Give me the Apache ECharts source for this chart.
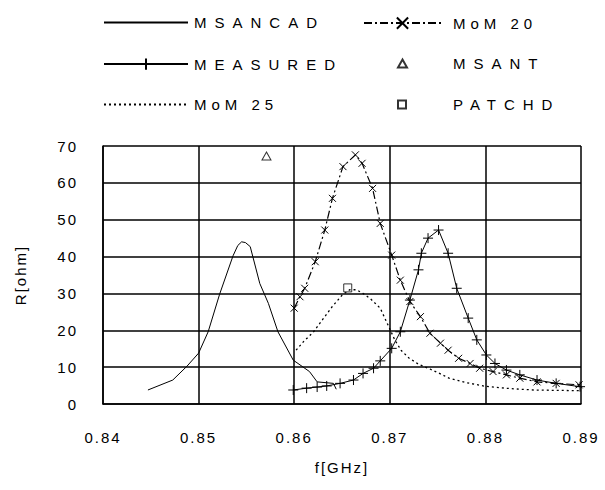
<!DOCTYPE html>
<html><head><meta charset="utf-8">
<script src="https://cdn.jsdelivr.net/npm/echarts@6/dist/echarts.min.js"></script>
<style>
html,body{margin:0;padding:0;background:#fff;}
#chart{width:605px;height:490px;}
#chart text{letter-spacing:2px;}
</style></head>
<body><div id="chart"></div>
<script>
// ---- data ----
const xTicks = [0.84, 0.85, 0.86, 0.87, 0.88, 0.89];
const yTicks = [0, 10, 20, 30, 40, 50, 60, 70];

const msancadF = [0.8447,0.8473,0.8488,0.8500,0.8510,0.8522,0.8536,0.8541,0.8545,0.8549,0.8554,0.8564,0.8573,0.8583,0.8599,0.8616,0.8624,0.8641,0.8644];
const msancadR = [3.8,6.5,10.3,13.8,19.6,29.8,40.2,43.0,44.0,43.8,42.7,32.7,27.3,19.6,11.9,8.8,6.0,5.6,4.0];

const measuredF = [0.8599,0.8613,0.8624,0.8634,0.8648,0.8662,0.8672,0.8683,0.8690,0.8702,0.8711,0.8721,0.8730,0.8733,0.8740,0.8751,0.8761,0.8770,0.8782,0.8791,0.8801,0.8810,0.8822,0.8836,0.8854,0.8874,0.8899];
const measuredR = [3.8,4.3,4.6,4.9,5.6,6.5,8.3,9.7,11.7,15.1,19.6,28.2,36.4,40.9,45.0,47.2,40.9,31.4,23.3,17.4,13.3,11.0,9.2,7.9,6.5,5.6,4.7];

const mom20F = [0.8600,0.8606,0.8611,0.8622,0.8632,0.8640,0.8651,0.8664,0.8671,0.8682,0.8690,0.8702,0.8711,0.8721,0.8732,0.8742,0.8753,0.8761,0.8772,0.8784,0.8794,0.8808,0.8822,0.8836,0.8854,0.8874,0.8898];
const mom20R = [26.0,29.1,31.4,38.6,47.2,55.8,64.4,67.6,65.3,58.5,49.0,40.4,33.6,27.8,23.7,19.2,16.5,14.6,12.4,11.0,9.7,8.8,7.9,7.0,6.0,5.6,5.2];

const mom25F = [0.8602,0.8610,0.8620,0.8630,0.8640,0.8650,0.8658,0.8665,0.8672,0.8680,0.8690,0.8698,0.8705,0.8712,0.8720,0.8730,0.8742,0.8752,0.8762,0.8780,0.8800,0.8825,0.8850,0.8875,0.8900];
const mom25R = [14.6,17.0,19.5,23.0,26.5,29.5,31.0,31.0,30.0,28.5,26.0,21.5,17.5,14.5,12.5,10.8,9.5,8.3,7.0,5.8,4.8,4.2,3.8,3.7,3.6];

const msantF = [0.8571];
const msantR = [67.3];
const patchdF = [0.8656];
const patchdR = [31.5];

const names = ['MSANCAD','MEASURED','MoM 25','MoM 20','MSANT','PATCHD'];

// ---- build ----
const zip = (a, b) => a.map((v, i) => [v, b[i]]);
const PLUS = 'path://M5,0 L5,10 M0,5 L10,5';
const CROSS = 'path://M0,0 L10,10 M10,0 L0,10';
const font = 'Liberation Sans, Arial, sans-serif';
const lt = {fontFamily: font, fontSize: 15, color: '#000', lineHeight: 14};

// legend layout: [name, left, rowCenter, itemWidth, itemHeight, textPadLeft, hideSymbol]
const rows = [22, 63, 104];
const legendLayout = [
  ['MSANCAD', 103, rows[0], 84, 14, 1, true],
  ['MEASURED', 103, rows[1], 84, 14, 1, false],
  ['MoM 25', 103, rows[2], 84, 14, 1, true],
  ['MoM 20', 363, rows[0], 77, 14, 7, false],
  ['MSANT', 397, rows[1], 9, 8, 41, false],
  ['PATCHD', 397, rows[2], 8, 8, 42, false]
];
const legends = legendLayout.map(([n, l, c, w, h, p, hide]) => ({
  data: [hide ? {name: n, itemStyle: {opacity: 0}} : n],
  left: l, top: c - 7, itemWidth: w, itemHeight: h, padding: 0,
  selectedMode: false, textStyle: Object.assign({padding: [0, 0, 0, p]}, lt)
}));

const chart = echarts.init(document.getElementById('chart'), null, {renderer: 'svg'});
chart.setOption({
  animation: false,
  backgroundColor: '#fff',
  legend: legends,
  grid: {left: 103, right: 24, top: 146, bottom: 86, containLabel: false},
  xAxis: {
    type: 'value', min: xTicks[0], max: xTicks[xTicks.length-1], interval: 0.01,
    name: 'f[GHz]', nameLocation: 'middle', nameGap: 56,
    nameTextStyle: {fontFamily: font, fontSize: 15, color: '#000'},
    axisLine: {show: true, lineStyle: {color: '#000', width: 1.5}},
    axisTick: {show: false},
    splitLine: {show: true, lineStyle: {color: '#000', width: 1.5}},
    axisLabel: {fontFamily: font, fontSize: 15, color: '#000', margin: 26, formatter: v => v.toFixed(2)}
  },
  yAxis: {
    type: 'value', min: yTicks[0], max: yTicks[yTicks.length-1], interval: 10,
    name: 'R[ohm]', nameLocation: 'middle', nameGap: 75, nameRotate: 90,
    nameTextStyle: {fontFamily: font, fontSize: 15, color: '#000'},
    axisLine: {show: true, lineStyle: {color: '#000', width: 1.5}},
    axisTick: {show: false},
    splitLine: {show: true, lineStyle: {color: '#000', width: 1.5}},
    axisLabel: {fontFamily: font, fontSize: 15, color: '#000', margin: 25}
  },
  series: [
    {name: 'MSANCAD', type: 'line', data: zip(msancadF, msancadR), symbol: 'circle', showSymbol: false,
     lineStyle: {color: '#000', width: 1}, itemStyle: {color: 'transparent'}},
    {name: 'MEASURED', type: 'line', data: zip(measuredF, measuredR), symbol: PLUS, symbolSize: 10, showAllSymbol: true,
     lineStyle: {color: '#000', width: 1}, itemStyle: {color: 'none', borderColor: '#000', borderWidth: 1}},
    {name: 'MoM 25', type: 'line', data: zip(mom25F, mom25R), symbol: 'circle', showSymbol: false,
     lineStyle: {color: '#000', width: 1.3, type: [2, 3]}, itemStyle: {color: 'transparent'}},
    {name: 'MoM 20', type: 'line', data: zip(mom20F, mom20R), symbol: CROSS, symbolSize: 7, showAllSymbol: true,
     lineStyle: {color: '#000', width: 1.2, type: [8, 3, 2, 3]}, itemStyle: {color: 'none', borderColor: '#000', borderWidth: 1}},
    {name: 'MSANT', type: 'scatter', data: zip(msantF, msantR), symbol: 'triangle', symbolSize: [9, 8],
     itemStyle: {color: '#fff', borderColor: '#000', borderWidth: 1}},
    {name: 'PATCHD', type: 'scatter', data: zip(patchdF, patchdR), symbol: 'rect', symbolSize: 8,
     itemStyle: {color: '#fff', borderColor: '#000', borderWidth: 1}}
  ]
});
// wider letter spacing for the legend labels, as in the reference
const spacing = {'MSANCAD': '8px', 'MEASURED': '8px', 'MSANT': '8px', 'PATCHD': '8px', 'MoM 20': '5px', 'MoM 25': '5px'};
document.querySelectorAll('#chart text').forEach(t => {
  const key = t.textContent.replace(/\u00a0/g, ' ').trim();
  if (spacing[key]) t.style.letterSpacing = spacing[key];
  t.querySelectorAll('tspan').forEach(s => { if (spacing[key]) s.style.letterSpacing = spacing[key]; });
});
</script></body></html>
